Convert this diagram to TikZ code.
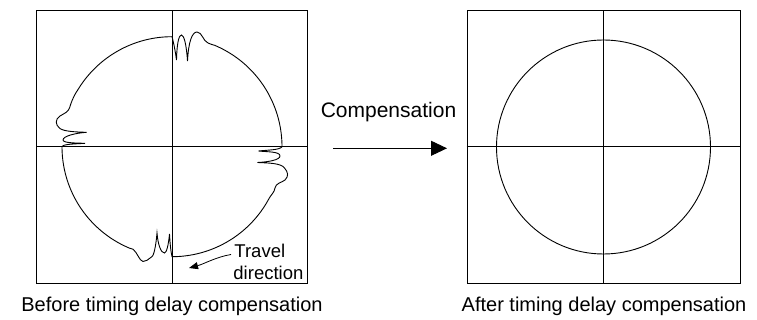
\documentclass[tikz,border=0pt]{standalone}
\usepackage{fontspec}
\setmainfont{Liberation Sans}
\usetikzlibrary{arrows.meta}
\begin{document}
\begin{tikzpicture}[x=1pt,y=-1pt,line width=0.9pt,
  frame/.style={draw,inner sep=0pt,minimum width=271pt,minimum height=272.3pt},
  captxt/.style={font=\fontsize{20}{24}\selectfont,anchor=base,inner sep=0pt},
  comptxt/.style={font=\fontsize{21}{25}\selectfont,anchor=base,inner sep=0pt},
  travtxt/.style={font=\fontsize{18.5}{21}\selectfont,anchor=base west,inner sep=0pt},
  bigarrow/.style={-{Triangle[length=16pt,width=15pt]}},
  smallarrow/.style={line width=0.8pt,-{Triangle[length=9pt,width=7pt]}}]
\useasboundingbox (0,0) rectangle (757,320);

% frames
\node[frame] (bL) at (172,146.85) {};
\node[frame,minimum width=273pt] (bR) at (603.5,146.85) {};
\draw (bL.north) -- (bL.south);
\draw (bL.west) -- (bL.east);
\draw (bR.north) -- (bR.south);
\draw (bR.west) -- (bR.east);

% distorted path (left)
\draw (172,36.7)
  .. controls (173.5,42) and (175.5,52) .. (176.5,60)
  .. controls (177,42) and (179,35) .. (181.5,35)
  .. controls (184,35) and (186.5,45) .. (187.5,61)
  .. controls (188.5,42) and (192,32) .. (197,32)
  .. controls (202,32) and (203,41) .. (208,43)
  .. controls (211,44.5) and (213,44.8) .. (215,45.4)
  -- plot[domain=-67:0,samples=40] ({172+110*cos(\x)},{146.7+110*sin(\x)})
  .. controls (280,150) and (268,150) .. (258.5,151)
  .. controls (268,152) and (280,151.5) .. (280,156)
  .. controls (280,160) and (268,162) .. (257.5,162.5)
  .. controls (268,163) and (281,163) .. (284.5,168)
  .. controls (288,172) and (289,176) .. (285,180)
  .. controls (281,183) and (276,183) .. (275,188)
  .. controls (274.5,192) and (271,195) .. (269.1,198.3)
  -- plot[domain=28:90,samples=40] ({172+110*cos(\x)},{146.7+110*sin(\x)})
  .. controls (170.5,250) and (170,242) .. (169.5,234)
  .. controls (168.5,245) and (166.5,253) .. (164.5,253)
  .. controls (161,253) and (158,245) .. (157,233)
  .. controls (156,245) and (154,256) .. (151.5,257)
  .. controls (148,259) and (146.5,262) .. (143,261.5)
  .. controls (139.5,261) and (137,252) .. (133,249.2)
  .. controls (132,248.7) and (131,248.5) .. (130,248.3)
  -- plot[domain=112.5:180,samples=40] ({172+110*cos(\x)},{146.7+110*sin(\x)})
  .. controls (63,144) and (75,144) .. (85,143.3)
  .. controls (75,143) and (63,143) .. (63,140)
  .. controls (63,136) and (76,133) .. (86.5,132.3)
  .. controls (76,132) and (64,131.5) .. (60,128.5)
  .. controls (55,125) and (55,119) .. (60,116)
  .. controls (65,113) and (68,112) .. (69.5,108)
  .. controls (71,103) and (73,97) .. (77.7,90)
  -- plot[domain=211:270,samples=40] ({172+110*cos(\x)},{146.7+110*sin(\x)});

% compensated circle (right)
\draw (603.5,147) circle[radius=107];

% travel direction
\node[travtxt] (trav1) at (234,257.5) {Travel};
\node[travtxt] (trav2) at (233,279) {direction};
\coordinate (tS) at (231,254.5);
\coordinate (tE) at (189,268);
\draw[smallarrow] (tS) .. controls (216,257) and (204,264) .. (tE);

% compensation arrow
\node[comptxt] (comp) at (388.5,117.7) {Compensation};
\coordinate (aS) at (333,148.3);
\coordinate (aE) at (447,148.3);
\draw[bigarrow] (aS) -- (aE);

% captions
\node[captxt] (capL) at (172,311) {Before timing delay compensation};
\node[captxt] (capR) at (604,311) {After timing delay compensation};
\end{tikzpicture}
\end{document}
